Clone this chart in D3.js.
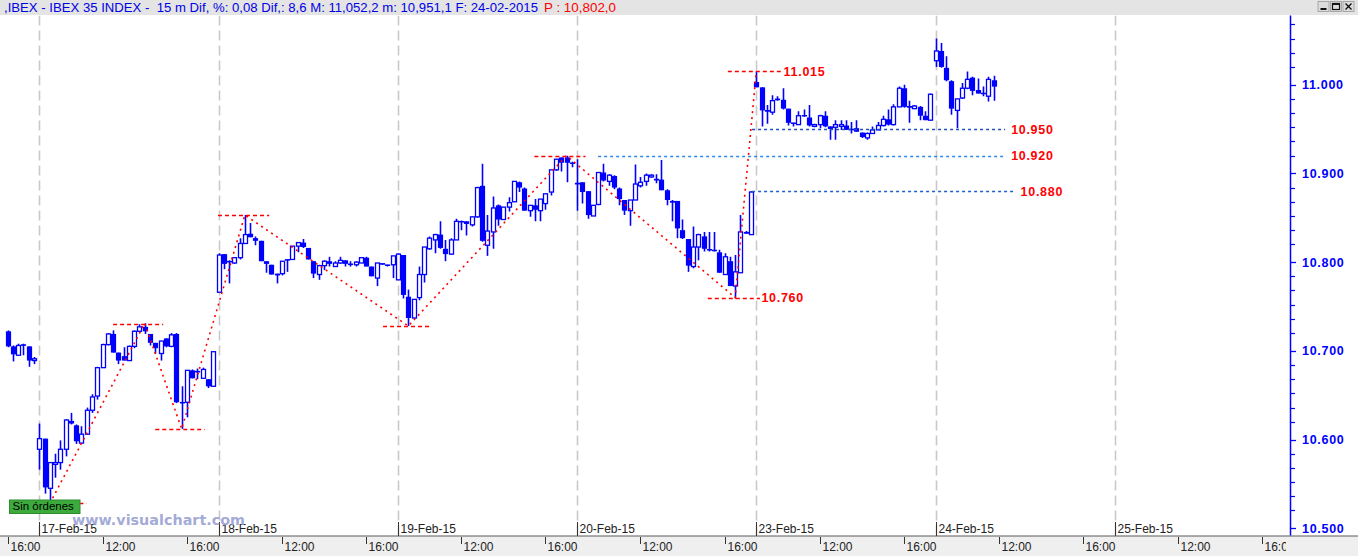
<!DOCTYPE html>
<html><head><meta charset="utf-8">
<script src="https://cdn.jsdelivr.net/npm/d3@7"></script>
<style>html,body{margin:0;padding:0;background:#fff;overflow:hidden}</style>
</head><body><svg id="c" width="1358" height="556"></svg>
<script>
// ---------- DATA ----------
const sessions = ["16-Feb-15","17-Feb-15","18-Feb-15","19-Feb-15","20-Feb-15","23-Feb-15","24-Feb-15","25-Feb-15"];
const barsPerSession = 34;          // 15-minute bars, 09:00 - 17:30
const firstBarSlot = 28;            // first bar shown: 16-Feb-15 16:00
const timeTickBars = [12, 28];      // 12:00 and 16:00
const timeTickLabels = ["12:00", "16:00"];

const open = [
 10722,10705,10695,10706,10705,10689,
 10589,10601,10545,10572,10574,10589,10621,10616,10596,10606,10633,10649,10681,10707,10719,10698,10694,10689,10705,10722,10727,10719,10709,10697,10714,10705,10719,10642,10642,10678,10677,10669,10668,10660,
 10766,10809,10800,10799,10805,10821,10832,10827,10824,10801,10797,10787,10787,10803,10803,10818,10822,10816,10801,10786,10796,10801,10795,10799,10802,10797,10797,10799,10805,10795,10782,10798,10797,10797,
 10780,10808,10761,10737,10760,10786,10815,10825,10831,10815,10809,10825,10846,10846,10842,10851,10886,10819,10834,10864,10848,10862,10868,10890,10883,10858,10864,10858,10866,10879,10904,10918,10918,10912,
 10889,10890,10880,10852,10865,10901,10891,10897,10883,10870,10858,10870,10886,10891,10896,10893,10893,10881,10869,10869,10836,10826,10795,10817,10829,10814,10813,10811,10786,10801,10773,10788,10834,10831,
 11003,10997,10971,10969,10983,10983,10973,10957,10955,10965,10963,10953,10955,10965,10953,10952,10953,10954,10950,10951,10946,10940,10945,10949,10954,10961,10955,10975,10996,10975,10973,10975,10965,10960,
 11027,11038,11019,11004,10971,10985,10996,11008,10994,10990,10987,11005
];
const high = [
 10723,10706,10708,10708,10705,10693,
 10618,10601,10574,10584,10599,10623,10630,10617,10615,10636,10651,10682,10708,10720,10723,10698,10704,10706,10723,10730,10731,10719,10709,10711,10714,10720,10720,10660,10678,10679,10680,10681,10668,10699,
 10810,10809,10802,10805,10827,10853,10844,10829,10824,10801,10797,10787,10801,10803,10818,10822,10826,10816,10801,10797,10802,10806,10801,10806,10802,10801,10801,10805,10806,10795,10799,10798,10797,10807,
 10810,10808,10769,10758,10795,10817,10829,10832,10846,10825,10827,10849,10847,10846,10851,10885,10911,10853,10874,10865,10862,10873,10891,10891,10884,10864,10871,10871,10877,10904,10916,10918,10920,10913,
 10916,10890,10880,10864,10901,10911,10899,10898,10884,10870,10870,10910,10896,10900,10899,10899,10915,10882,10870,10869,10848,10826,10840,10832,10834,10834,10834,10814,10810,10806,10808,10853,10835,10880,
 11015,10997,10977,10988,10987,10996,10973,10957,10970,10972,10977,10956,10966,10970,10953,10960,10960,10960,10958,10960,10946,10946,10953,10958,10965,10972,10978,10998,11000,10982,10977,10976,10970,10990,
 11052,11047,11032,11005,10984,11002,11015,11009,11007,10998,11009,11010
];
const low = [
 10704,10688,10695,10695,10682,10685,
 10566,10539,10528,10557,10566,10581,10617,10595,10595,10606,10630,10645,10681,10706,10698,10685,10689,10689,10703,10721,10719,10706,10697,10689,10704,10704,10641,10612,10625,10669,10668,10669,10658,10660,
 10766,10792,10776,10798,10803,10821,10828,10819,10801,10788,10786,10776,10785,10789,10803,10811,10816,10803,10782,10780,10791,10795,10795,10798,10795,10795,10795,10799,10795,10784,10773,10797,10795,10782,
 10780,10759,10728,10736,10757,10777,10814,10810,10815,10801,10808,10825,10836,10830,10840,10850,10823,10807,10815,10841,10848,10857,10868,10879,10858,10851,10846,10846,10859,10875,10903,10902,10890,10907,
 10858,10866,10849,10852,10864,10891,10886,10882,10864,10853,10841,10870,10884,10886,10895,10889,10881,10864,10846,10827,10826,10789,10793,10802,10812,10812,10812,10788,10786,10773,10760,10788,10832,10831,
 10997,10953,10956,10966,10982,10972,10954,10953,10955,10964,10953,10952,10951,10952,10938,10938,10949,10949,10945,10947,10940,10938,10945,10949,10953,10954,10954,10975,10974,10957,10973,10960,10960,10960,
 11020,11019,11004,10966,10951,10984,10995,10988,10990,10987,10981,10982
];
const close = [
 10705,10696,10706,10707,10689,10691,
 10601,10546,10574,10574,10589,10622,10618,10598,10606,10633,10648,10681,10707,10719,10698,10689,10689,10705,10722,10727,10722,10709,10703,10711,10705,10718,10642,10641,10678,10669,10676,10679,10660,10699,
 10808,10798,10801,10805,10821,10831,10828,10824,10801,10798,10786,10785,10801,10802,10818,10822,10817,10803,10787,10796,10801,10798,10799,10802,10798,10798,10800,10805,10795,10784,10799,10798,10796,10807,
 10809,10763,10737,10758,10786,10817,10827,10831,10816,10809,10825,10846,10845,10843,10851,10884,10824,10835,10861,10848,10862,10867,10891,10884,10858,10864,10859,10871,10877,10904,10916,10912,10912,10911,
 10888,10879,10853,10864,10901,10892,10898,10884,10871,10858,10870,10888,10890,10898,10898,10893,10881,10870,10867,10838,10827,10796,10817,10831,10815,10814,10813,10788,10806,10773,10789,10834,10832,10879,
 10997,10971,10970,10982,10984,10973,10957,10956,10965,10965,10954,10955,10965,10953,10950,10955,10955,10949,10949,10947,10941,10945,10949,10954,10961,10955,10975,10996,10975,10975,10976,10965,10960,10989.2,
 11038,11020,11005,10973,10984,10996,11006,10993,10990,10990,11006,10997.8
];

// zigzag pivots (bar slot, value)
const zigzagSlots  = [36, 54, 61, 73, 104, 134, 166, 170];
const zigzagValues = [10528, 10731, 10612, 10853, 10728, 10920, 10760, 11015];

// swing level lines
const swingValues = [10528, 10730, 10612, 10853, 10728, 10920, 10760, 11015];
const swingStart  = [31, 48, 56, 67.9, 99.2, 127.9, 160.8, 164.6];
const swingEnd    = [43, 57.5, 65.4, 77.6, 108.5, 137.6, 170.7, 174.9];
const swingLabel  = [false, false, false, false, false, false, true, true];

// target / support level lines
const levelValues = [10950, 10920, 10880];
const levelStart  = [169.2, 140, 169.2];
const levelEnd    = [217.2, 217.2, 219];
const levelColors = ["#1d4fc4", "#2a8ae6", "#1f5fd0"];

const yMajorTicks = [10500, 10600, 10700, 10800, 10900, 11000];

const titleMain = ",IBEX - IBEX 35 INDEX -  15 m Dif, %: 0,08 Dif,: 8,6 M: 11,052,2 m: 10,951,1 F: 24-02-2015";
const titleLast = "P : 10,802,0";
const badgeText = "Sin órdenes";
const watermark = "www.visualchart.com";

// ---------- LAYOUT ----------
const W = 1358, H = 556;
const plotTop = 15.5, plotBottom = 535.5, axisX = 1290;
const svg = d3.select("#c");
const BLUE = "#0000ff", RED = "#ff0000";
const fmt = v => d3.format(",")(v).replace(/,/g, ".");

const x = d3.scaleLinear().domain([34, 238]).range([39.3, 39.3 + 204 * 5.272]);
const y = d3.scaleLinear().domain([10491.8, 11078]).range([plotBottom, plotTop]);

const defs = svg.append("defs");
defs.append("clipPath").attr("id", "plotClip").append("rect")
  .attr("x", 0).attr("y", plotTop).attr("width", axisX).attr("height", plotBottom - plotTop);
defs.append("clipPath").attr("id", "xClip").append("rect")
  .attr("x", 0).attr("y", 520).attr("width", 1286).attr("height", 40);

svg.append("rect").attr("width", W).attr("height", H).attr("fill", "#fff");

// title bar
svg.append("rect").attr("x", 0).attr("y", 0).attr("width", W).attr("height", 15).attr("fill", "#e4e4e4");
svg.append("text").attr("x", 4).attr("y", 12).attr("font-family", "Liberation Sans, Arial, sans-serif")
  .attr("font-size", 12.5).attr("fill", "#0000e6").attr("textLength", 534).attr("lengthAdjust", "spacingAndGlyphs")
  .attr("xml:space", "preserve").style("white-space", "pre").text(titleMain);
svg.append("text").attr("x", 544).attr("y", 12).attr("font-family", "Liberation Sans, Arial, sans-serif")
  .attr("font-size", 12.5).attr("fill", RED).attr("textLength", 72).attr("lengthAdjust", "spacingAndGlyphs")
  .text(titleLast);
// window buttons
const btnX = [1318, 1330.5, 1343];
btnX.forEach(bx => {
  svg.append("rect").attr("x", bx).attr("y", 1.5).attr("width", 11).attr("height", 10)
    .attr("fill", "#dcdcdc").attr("stroke", "#9a9a9a").attr("stroke-width", 0.8);
});
svg.append("line").attr("x1", 1320.5).attr("x2", 1326.5).attr("y1", 9).attr("y2", 9).attr("stroke", "#111").attr("stroke-width", 2);
svg.append("rect").attr("x", 1332.5).attr("y", 3.5).attr("width", 7).attr("height", 6).attr("fill", "none").attr("stroke", "#111").attr("stroke-width", 1.2);
svg.append("line").attr("x1", 1332.5).attr("x2", 1339.5).attr("y1", 4.2).attr("y2", 4.2).attr("stroke", "#111").attr("stroke-width", 1.5);
svg.append("path").attr("d", "M1345.5,3.5L1351.5,9.5M1351.5,3.5L1345.5,9.5").attr("stroke", "#111").attr("stroke-width", 1.4);

// bottom band
svg.append("rect").attr("x", 0).attr("y", 536).attr("width", W).attr("height", 20).attr("fill", "#efefef");
svg.append("line").attr("x1", 0).attr("x2", W).attr("y1", 536).attr("y2", 536).attr("stroke", "#5a5a5a").attr("stroke-width", 1);

const plot = svg.append("g").attr("clip-path", "url(#plotClip)");

// day separators
const dayStarts = d3.range(1, sessions.length).map(s => ({ slot: s * barsPerSession, label: sessions[s] }));
plot.selectAll("line.day").data(dayStarts).join("line")
  .attr("x1", d => Math.round(x(d.slot)) + 0.5).attr("x2", d => Math.round(x(d.slot)) + 0.5)
  .attr("y1", plotTop).attr("y2", plotBottom)
  .attr("stroke", "#c9c9c9").attr("stroke-width", 1.6).attr("stroke-dasharray", "10,5");

// candles
const bars = open.map((o, i) => ({ slot: firstBarSlot + i, o, h: high[i], l: low[i], c: close[i] }));
const cx = d => Math.round(x(d.slot)) + 0.5;
plot.selectAll("line.wick").data(bars).join("line")
  .attr("x1", cx).attr("x2", cx).attr("y1", d => y(d.h)).attr("y2", d => y(d.l))
  .attr("stroke", BLUE).attr("stroke-width", 1.6);
const doji = d => Math.abs(d.c - d.o) < 1.6;
plot.selectAll("rect.up").data(bars.filter(d => d.c > d.o && !doji(d))).join("rect")
  .attr("x", d => cx(d) - 2).attr("width", 4)
  .attr("y", d => y(d.c)).attr("height", d => y(d.o) - y(d.c))
  .attr("fill", "#fff").attr("stroke", BLUE).attr("stroke-width", 1.3);
plot.selectAll("rect.down").data(bars.filter(d => d.c < d.o && !doji(d))).join("rect")
  .attr("x", d => cx(d) - 2.6).attr("width", 5.2)
  .attr("y", d => y(d.o)).attr("height", d => y(d.c) - y(d.o))
  .attr("fill", BLUE);
plot.selectAll("line.doji").data(bars.filter(doji)).join("line")
  .attr("x1", d => cx(d) - 2.6).attr("x2", d => cx(d) + 2.6)
  .attr("y1", d => y((d.o + d.c) / 2)).attr("y2", d => y((d.o + d.c) / 2))
  .attr("stroke", BLUE).attr("stroke-width", 1.6);

// swing level lines (red dashed)
const swings = swingValues.map((v, i) => ({ v, s: swingStart[i], e: swingEnd[i], label: swingLabel[i] }));
plot.selectAll("line.swing").data(swings).join("line")
  .attr("x1", d => x(d.s)).attr("x2", d => x(d.e)).attr("y1", d => Math.round(y(d.v)) + 0.5).attr("y2", d => Math.round(y(d.v)) + 0.5)
  .attr("stroke", RED).attr("stroke-width", 1.4).attr("stroke-dasharray", "4,3");

// level lines (blue dotted)
const levels = levelValues.map((v, i) => ({ v, s: levelStart[i], e: levelEnd[i], col: levelColors[i] }));
plot.selectAll("line.level").data(levels).join("line")
  .attr("x1", d => x(d.s)).attr("x2", d => x(d.e)).attr("y1", d => Math.round(y(d.v)) + 0.5).attr("y2", d => Math.round(y(d.v)) + 0.5)
  .attr("stroke", d => d.col).attr("stroke-width", 1.4).attr("stroke-dasharray", "3,3");

// zigzag
const zz = zigzagSlots.map((s, i) => [x(s), y(zigzagValues[i])]);
plot.append("path").attr("d", d3.line()(zz)).attr("fill", "none")
  .attr("stroke", RED).attr("stroke-width", 1.6).attr("stroke-dasharray", "2,4");

// labels
const labelFont = "Liberation Sans, Arial, sans-serif";
swings.filter(d => d.label).forEach(d => {
  svg.append("text").attr("x", x(d.e) + 1.5).attr("y", y(d.v)).attr("dy", "0.36em")
    .attr("font-family", labelFont).attr("font-weight", "bold").attr("font-size", 12.5)
    .attr("letter-spacing", 0.7).attr("fill", RED).text(fmt(d.v));
});
levels.forEach(d => {
  svg.append("text").attr("x", x(d.e) + 6).attr("y", y(d.v)).attr("dy", "0.36em")
    .attr("font-family", labelFont).attr("font-weight", "bold").attr("font-size", 12.5)
    .attr("letter-spacing", 0.7).attr("fill", RED).text(fmt(d.v));
});

// y axis
svg.append("line").attr("x1", axisX + 0.5).attr("x2", axisX + 0.5).attr("y1", plotTop).attr("y2", plotBottom)
  .attr("stroke", BLUE).attr("stroke-width", 1.5);
const minor = [];
yMajorTicks.concat([11100]).forEach(m => d3.range(1, 6).forEach(k => {
  const v = m - 16 * k; if (v > y.domain()[0] && v < y.domain()[1]) minor.push(v);
}));
svg.selectAll("line.ymin").data(minor).join("line")
  .attr("x1", axisX).attr("x2", axisX + 5).attr("y1", d => Math.round(y(d)) + 0.5).attr("y2", d => Math.round(y(d)) + 0.5)
  .attr("stroke", BLUE).attr("stroke-width", 1.2);
svg.selectAll("line.ymaj").data(yMajorTicks).join("line")
  .attr("x1", axisX).attr("x2", axisX + 6).attr("y1", d => Math.round(y(d)) + 0.5).attr("y2", d => Math.round(y(d)) + 0.5)
  .attr("stroke", BLUE).attr("stroke-width", 1.3);
svg.selectAll("text.ylab").data(yMajorTicks).join("text")
  .attr("x", axisX + 12).attr("y", d => y(d)).attr("dy", "0.36em")
  .attr("font-family", labelFont).attr("font-weight", "bold").attr("font-size", 12.5)
  .attr("letter-spacing", 0.7).attr("fill", BLUE).text(fmt);

// x axis: time ticks
const xg = svg.append("g").attr("clip-path", "url(#xClip)");
const timeTicks = [];
sessions.forEach((s, si) => timeTickBars.forEach((b, k) => {
  const slot = si * barsPerSession + b;
  const px = x(slot);
  if (px > 0 && px < 1290) timeTicks.push({ slot, label: timeTickLabels[k] });
}));
xg.selectAll("line.tt").data(timeTicks).join("line")
  .attr("x1", d => Math.round(x(d.slot)) + 0.5).attr("x2", d => Math.round(x(d.slot)) + 0.5)
  .attr("y1", 537).attr("y2", 544).attr("stroke", "#333").attr("stroke-width", 1);
xg.selectAll("text.tt").data(timeTicks).join("text")
  .attr("x", d => Math.round(x(d.slot)) + 2.5).attr("y", 550.5)
  .attr("font-family", labelFont).attr("font-size", 12).attr("fill", "#222").text(d => d.label);

// date labels
svg.selectAll("line.dt").data(dayStarts).join("line")
  .attr("x1", d => Math.round(x(d.slot)) + 0.5).attr("x2", d => Math.round(x(d.slot)) + 0.5)
  .attr("y1", 522).attr("y2", 536).attr("stroke", "#333").attr("stroke-width", 1);
svg.selectAll("text.dt").data(dayStarts).join("text")
  .attr("x", d => Math.round(x(d.slot)) + 2.5).attr("y", 533)
  .attr("font-family", labelFont).attr("font-size", 12).attr("fill", "#222").text(d => d.label);

// watermark (overlaps the first date labels, as in the original)
svg.append("text").attr("x", 72).attr("y", 524.5).attr("font-family", "DejaVu Sans, Verdana, sans-serif")
  .attr("font-weight", "bold").attr("font-size", 14).attr("fill", "#98a0d2").attr("fill-opacity", 0.9)
  .attr("textLength", 173).attr("lengthAdjust", "spacingAndGlyphs").text(watermark);

// badge
svg.append("rect").attr("x", 9.5).attr("y", 500).attr("width", 70.5).attr("height", 13.5)
  .attr("fill", "#3caa3c").attr("stroke", "#2e8b2e").attr("stroke-width", 1);
svg.append("text").attr("x", 12.5).attr("y", 510).attr("font-family", labelFont).attr("font-size", 11.5)
  .attr("fill", "#000").text(badgeText);
</script></body></html>
